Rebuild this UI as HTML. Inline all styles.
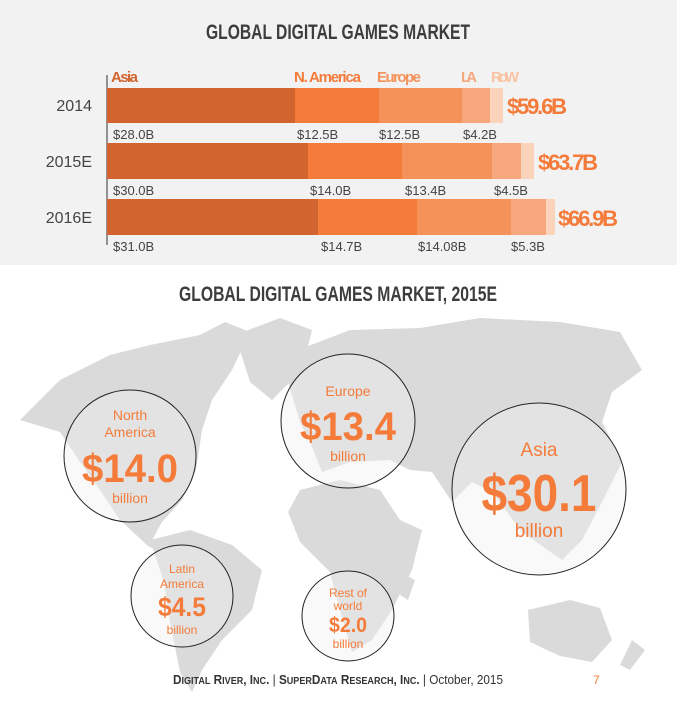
<!DOCTYPE html>
<html><head><meta charset="utf-8"><style>
html,body{margin:0;padding:0;background:#fff}
svg{display:block}
text{font-family:"Liberation Sans",sans-serif}
</style></head><body>
<svg width="677" height="714" viewBox="0 0 677 714" xmlns="http://www.w3.org/2000/svg">
<rect x="0" y="0" width="677" height="265" fill="#f2f2f2"/>
<text x="206" y="39" font-size="21" font-weight="bold" fill="#3d3d3d" textLength="264" lengthAdjust="spacingAndGlyphs">GLOBAL DIGITAL GAMES MARKET</text>
<line x1="107" y1="75" x2="107" y2="245" stroke="#333" stroke-width="1"/>
<g font-size="15" font-weight="bold" lengthAdjust="spacingAndGlyphs">
<text x="111" y="82" fill="#d2652f" textLength="27">Asia</text>
<text x="294" y="82" fill="#f47b3a" textLength="67">N. America</text>
<text x="377" y="82" fill="#f5925a" textLength="44">Europe</text>
<text x="461" y="82" fill="#f7a77d" textLength="16">LA</text>
<text x="491" y="82" fill="#fbc3a2" textLength="28">RoW</text>
</g>
<g font-size="16" fill="#444" text-anchor="end">
<text x="92" y="111">2014</text>
<text x="92" y="167">2015E</text>
<text x="92" y="223">2016E</text>
</g>
<rect x="107" y="88" width="188" height="35" fill="#d2652f"/>
<rect x="295" y="88" width="84" height="35" fill="#f47b3a"/>
<rect x="379" y="88" width="83" height="35" fill="#f5925a"/>
<rect x="462" y="88" width="28" height="35" fill="#f7a77d"/>
<rect x="490" y="88" width="13" height="35" fill="#fbd3bb"/>
<rect x="107" y="143" width="201" height="36" fill="#d2652f"/>
<rect x="308" y="143" width="94" height="36" fill="#f47b3a"/>
<rect x="402" y="143" width="90" height="36" fill="#f5925a"/>
<rect x="492" y="143" width="29" height="36" fill="#f7a77d"/>
<rect x="521" y="143" width="13" height="36" fill="#fbd3bb"/>
<rect x="107" y="199" width="211" height="36" fill="#d2652f"/>
<rect x="318" y="199" width="99" height="36" fill="#f47b3a"/>
<rect x="417" y="199" width="94" height="36" fill="#f5925a"/>
<rect x="511" y="199" width="35" height="36" fill="#f7a77d"/>
<rect x="546" y="199" width="9" height="36" fill="#fbd3bb"/>
<g font-size="22" font-weight="bold" fill="#f47b3a" lengthAdjust="spacingAndGlyphs">
<text x="507" y="114" textLength="60">$59.6B</text>
<text x="538" y="170" textLength="60">$63.7B</text>
<text x="558" y="226" textLength="60">$66.9B</text>
</g>
<g font-size="13" fill="#444">
<text x="113" y="139">$28.0B</text><text x="297" y="139">$12.5B</text><text x="379" y="139">$12.5B</text><text x="463" y="139">$4.2B</text>
<text x="113" y="195">$30.0B</text><text x="310" y="195">$14.0B</text><text x="405" y="195">$13.4B</text><text x="494" y="195">$4.5B</text>
<text x="113" y="251">$31.0B</text><text x="321" y="251">$14.7B</text><text x="418" y="251">$14.08B</text><text x="511" y="251">$5.3B</text>
</g>
<text x="179" y="301" font-size="21" font-weight="bold" fill="#3d3d3d" textLength="318" lengthAdjust="spacingAndGlyphs">GLOBAL DIGITAL GAMES MARKET, 2015E</text>
<g fill="#dadada">
<polygon points="20,420 60,380 110,355 150,345 200,335 225,322 250,332 232,370 212,400 202,430 196,470 182,500 162,522 152,540 168,556 148,546 120,520 100,490 80,462 60,432"/>
<polygon points="235,335 280,318 312,330 302,370 272,400 250,382"/>
<polygon points="150,540 190,530 232,545 262,570 252,610 222,640 202,670 192,692 180,672 170,622 164,582"/>
<polygon points="298,350 350,330 420,328 480,318 560,322 620,332 642,370 612,392 602,422 622,462 602,502 582,540 562,560 522,532 492,492 472,482 452,502 432,472 410,470 390,460 350,462 322,472 310,442 300,422 288,382"/>
<polygon points="300,490 340,480 380,490 400,520 422,530 412,570 392,610 372,640 352,652 340,610 330,572 300,542 288,512"/>
<polygon points="528,610 570,600 600,608 612,640 592,662 560,656 530,642"/>
<polygon points="632,640 645,650 630,670 620,665"/>
<polygon points="405,575 415,580 408,600 400,595"/>
</g>
<g fill="#f0f0f0" fill-opacity="0.4" stroke="#222" stroke-width="1">
<circle cx="130" cy="456" r="66"/>
<circle cx="348" cy="421" r="67"/>
<ellipse cx="539" cy="489" rx="87" ry="86"/>
<ellipse cx="182" cy="596" rx="51" ry="51"/>
<ellipse cx="348" cy="616" rx="46" ry="45"/>
</g>
<g fill="#f47b3a" text-anchor="middle">
<text x="130" y="420" font-size="14">North</text>
<text x="130" y="437" font-size="14">America</text>
<text x="130" y="482" font-size="40" font-weight="bold" textLength="96" lengthAdjust="spacingAndGlyphs">$14.0</text>
<text x="130" y="503" font-size="14">billion</text>
<text x="348" y="396" font-size="14">Europe</text>
<text x="348" y="440" font-size="40" font-weight="bold" textLength="96" lengthAdjust="spacingAndGlyphs">$13.4</text>
<text x="348" y="461" font-size="14">billion</text>
<text x="539" y="456" font-size="19">Asia</text>
<text x="539" y="511" font-size="52" font-weight="bold" textLength="115" lengthAdjust="spacingAndGlyphs">$30.1</text>
<text x="539" y="537" font-size="19">billion</text>
<text x="182" y="573" font-size="12">Latin</text>
<text x="182" y="588" font-size="12">America</text>
<text x="182" y="616" font-size="27" font-weight="bold" textLength="48" lengthAdjust="spacingAndGlyphs">$4.5</text>
<text x="182" y="634" font-size="12">billion</text>
<text x="348" y="597" font-size="12">Rest of</text>
<text x="348" y="610" font-size="12">world</text>
<text x="348" y="632" font-size="21" font-weight="bold" textLength="38" lengthAdjust="spacingAndGlyphs">$2.0</text>
<text x="348" y="648" font-size="12">billion</text>
</g>
<text x="173" y="684" font-size="13" fill="#333" textLength="330" lengthAdjust="spacingAndGlyphs"><tspan font-weight="bold">D<tspan font-size="10">IGITAL</tspan> R<tspan font-size="10">IVER</tspan>, I<tspan font-size="10">NC</tspan>.</tspan> | <tspan font-weight="bold">S<tspan font-size="10">UPER</tspan>D<tspan font-size="10">ATA</tspan> R<tspan font-size="10">ESEARCH</tspan>, I<tspan font-size="10">NC</tspan>.</tspan> | October, 2015</text>
<text x="593" y="684" font-size="12" fill="#f47b3a">7</text>
</svg>
</body></html>
